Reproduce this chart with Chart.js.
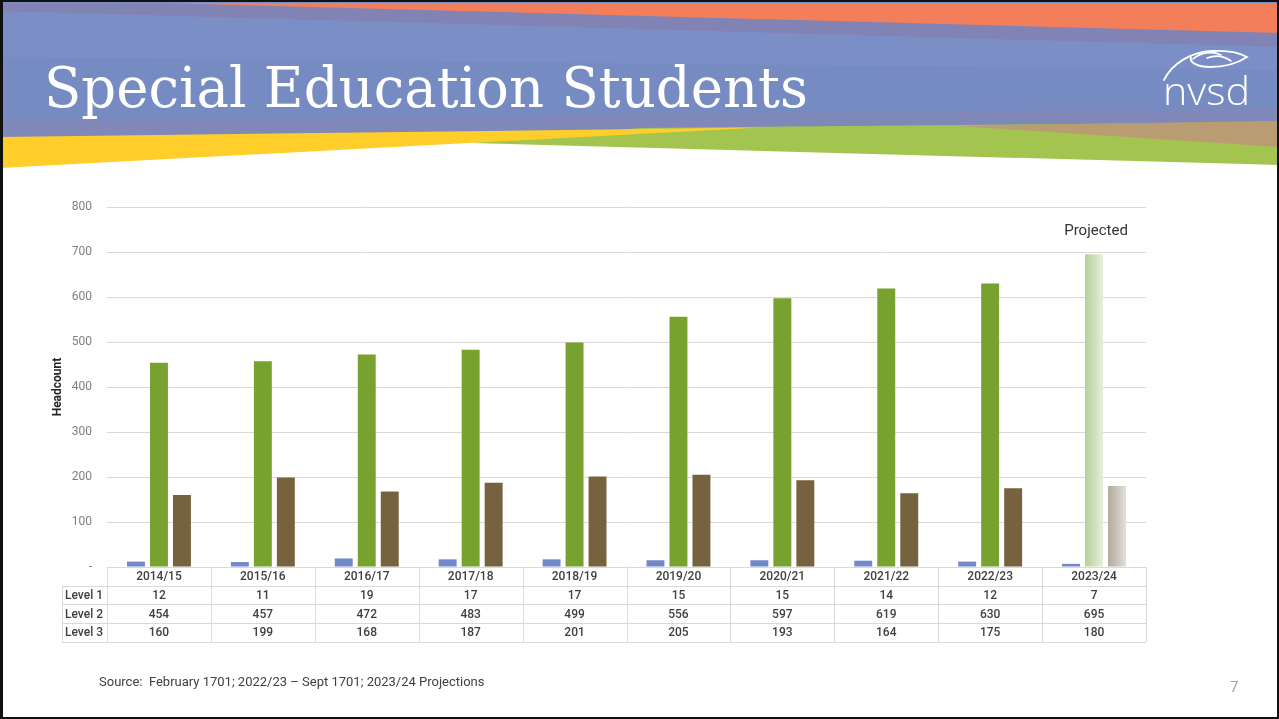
<!DOCTYPE html>
<html>
<head>
<meta charset="utf-8">
<script src="https://cdn.jsdelivr.net/npm/chart.js@4"></script>
<style>
  html, body { margin:0; padding:0; background:#fff; }
  #slide { position:relative; width:1279px; height:719px; overflow:hidden; background:#fff; }
  #bg, #fg { position:absolute; left:0; top:0; }
  #chartBox { position:absolute; left:0; top:0; width:1279px; height:719px; }
  #frame { position:absolute; left:0; top:0; width:1279px; height:719px; box-sizing:border-box;
           border-style:solid; border-color:#111; border-width:2px 2px 2px 3px; pointer-events:none; }
</style>
</head>
<body>
<div id="slide">
  <svg id="bg" width="1279" height="719" xmlns="http://www.w3.org/2000/svg">
    <rect x="0" y="0" width="1279" height="719" fill="#ffffff"/>
    <polygon points="0,0 1279,0 1279,170 0,170" fill="#7b8fc6"/>
    <polygon points="0,57 1279,70 1279,118 0,120" fill="#7689bf" opacity="0.8"/>
    <polygon points="0,120 1279,108 1279,124 0,138" fill="#7f88b8"/>
    <polygon points="0,3 1279,3 1279,47 0,11" fill="#8283b5"/>
    <polygon points="163,3 1279,3 1279,33" fill="#f27e5b"/>
    <polygon points="0,3 163,3 0,4" fill="#8283b5"/>
    <polygon points="0,138 1279,124 1279,170 0,170" fill="#ffffff"/>
    <polygon points="470,143 640,128 1279,122 1279,165" fill="#a3c550"/>
    <polygon points="958,126 1279,121 1279,147" fill="#b99c72"/>
    <polygon points="0,137 760,127.5 0,168" fill="#ffce2b"/>
  </svg>
  <div id="chartBox"><canvas id="c" width="1279" height="719"></canvas></div>
  <svg id="fg" width="1279" height="719" xmlns="http://www.w3.org/2000/svg">
    <text x="44" y="107" font-family="DejaVu Serif" font-size="56" fill="#ffffff" textLength="764" lengthAdjust="spacingAndGlyphs">Special Education Students</text>
    <path d="M1164 80 C1172 64, 1190 52, 1212 51 C1228 50, 1240 53, 1247 57 C1238 63, 1226 67, 1210 67 C1197 67, 1189 62, 1191 57" fill="none" stroke="#ffffff" stroke-width="1.8" stroke-linecap="round"/>
    <path d="M1193 59 C1201 52, 1213 51, 1221 55" fill="none" stroke="#ffffff" stroke-width="1.6" stroke-linecap="round"/>
    <path d="M1207 58 C1215 55, 1224 56, 1231 61" fill="none" stroke="#ffffff" stroke-width="1.6" stroke-linecap="round"/>
    <text x="1163" y="105" font-family="Open Sans" font-weight="300" font-size="38" fill="#ffffff" textLength="87" lengthAdjust="spacingAndGlyphs">nvsd</text>
    <text x="99" y="686" font-family="Roboto" font-size="13" fill="#404040" xml:space="preserve">Source:  February 1701; 2022/23 – Sept 1701; 2023/24 Projections</text>
    <text x="1230" y="692" font-family="Roboto" font-size="15" fill="#a6a6a6">7</text>
  </svg>
  <div id="frame"></div>
</div>
<script>
// ---- data ----
const categories = ['2014/15','2015/16','2016/17','2017/18','2018/19','2019/20','2020/21','2021/22','2022/23','2023/24'];
const seriesNames = ['Level 1','Level 2','Level 3'];
const level1 = [12, 11, 19, 17, 17, 15, 15, 14, 12, 7];
const level2 = [454, 457, 472, 483, 499, 556, 597, 619, 630, 695];
const level3 = [160, 199, 168, 187, 201, 205, 193, 164, 175, 180];
const projectedIndex = 9;
const projectedLabel = 'Projected';
const yAxisTitle = 'Headcount';
const yMin = 0, yMax = 800, yStep = 100;

// ---- styles ----
const solidColors = ['#7189c9', '#77a22f', '#76623f'];
const projectedGrad = [null, ['#b5d198', '#e6efdc'], ['#b3a898', '#e3dfd9']];
const CAT_PCT = 0.664, BAR_PCT = 0.78;

function barFill(dsIndex) {
  return function(context) {
    const chart = context.chart;
    const i = context.dataIndex;
    const g = projectedGrad[dsIndex];
    if (i !== projectedIndex || !g || !chart.scales || !chart.scales.x) return solidColors[dsIndex];
    const xs = chart.scales.x;
    const catW = xs.width / categories.length;
    const slot = catW * CAT_PCT / 3;
    const cx = xs.getPixelForValue(i) + (dsIndex - 1) * slot;
    const hw = slot * BAR_PCT / 2;
    const grad = chart.ctx.createLinearGradient(cx - hw, 0, cx + hw, 0);
    grad.addColorStop(0, g[0]);
    grad.addColorStop(1, g[1]);
    return grad;
  };
}

const tablePlugin = {
  id: 'dataTable',
  afterDraw(chart) {
    const { ctx, chartArea, scales } = chart;
    const xs = scales.x, ys = scales.y;
    const top = chartArea.bottom;
    const rowH = 18.7;
    const labelLeft = 62;
    const n = categories.length;
    const bounds = [chartArea.left];
    for (let i = 1; i < n; i++) bounds.push((xs.getPixelForValue(i - 1) + xs.getPixelForValue(i)) / 2);
    bounds.push(chartArea.right);
    const rows = [level1, level2, level3];
    ctx.save();
    ctx.strokeStyle = '#d9d9d9';
    ctx.lineWidth = 1;
    ctx.beginPath();
    const p = v => Math.round(v) + 0.5;
    ctx.moveTo(chartArea.left, p(top)); ctx.lineTo(chartArea.right, p(top));
    for (let r = 1; r <= 4; r++) {
      ctx.moveTo(labelLeft, p(top + r * rowH)); ctx.lineTo(chartArea.right, p(top + r * rowH));
    }
    bounds.forEach(b => { ctx.moveTo(p(b), top); ctx.lineTo(p(b), top + 4 * rowH); });
    ctx.moveTo(p(labelLeft), top + rowH); ctx.lineTo(p(labelLeft), top + 4 * rowH);
    ctx.stroke();

    ctx.fillStyle = '#404040';
    ctx.textBaseline = 'middle';
    ctx.font = '500 12px Roboto';
    ctx.textAlign = 'center';
    categories.forEach((c, i) => ctx.fillText(c, xs.getPixelForValue(i), top + rowH / 2 + 1));
    rows.forEach((arr, r) => {
      const yc = top + (r + 1) * rowH + rowH / 2 + 1;
      ctx.textAlign = 'left';
      ctx.fillText(seriesNames[r], labelLeft + 3, yc);
      ctx.textAlign = 'center';
      arr.forEach((v, i) => ctx.fillText(String(v), xs.getPixelForValue(i), yc));
    });

    // "Projected" annotation above the projected group
    ctx.font = '15px Roboto';
    ctx.fillStyle = '#333333';
    ctx.textAlign = 'center';
    ctx.fillText(projectedLabel, xs.getPixelForValue(projectedIndex) + 2, ys.getPixelForValue(747));
    ctx.restore();
  }
};

Chart.defaults.font.family = 'Roboto';
new Chart(document.getElementById('c'), {
  type: 'bar',
  data: {
    labels: categories,
    datasets: [level1, level2, level3].map((d, k) => ({
      label: seriesNames[k],
      data: d,
      backgroundColor: barFill(k),
      categoryPercentage: CAT_PCT,
      barPercentage: BAR_PCT
    }))
  },
  options: {
    responsive: false,
    animation: false,
    layout: { padding: { left: 47, right: 133, top: 207, bottom: 152 } },
    plugins: { legend: { display: false }, tooltip: { enabled: false } },
    scales: {
      x: { display: false },
      y: {
        min: yMin, max: yMax,
        afterFit: s => { s.width = 60; },
        border: { display: false },
        grid: { color: '#d9d9d9', drawTicks: false },
        ticks: {
          stepSize: yStep, padding: 15, color: '#7f7f7f', font: { size: 12 },
          callback: v => v === 0 ? '-' : v
        },
        title: { display: true, text: yAxisTitle, color: '#262626', font: { size: 12, weight: 'bold' } }
      }
    }
  },
  plugins: [tablePlugin]
});
</script>
</body>
</html>
